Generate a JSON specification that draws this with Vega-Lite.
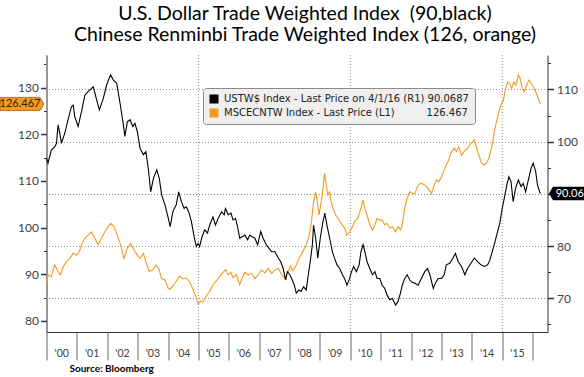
{
  "$schema": "https://vega.github.io/schema/vega-lite/v6.json",
  "width": 501,
  "height": 277,
  "autosize": "none",
  "padding": {"left": 46.5, "top": 55, "right": 36.5, "bottom": 45},
  "background": "#ffffff",
  "config": {
    "view": {"stroke": null},
    "axis": {"labelFont": "Lato", "labelColor": "#404040", "domainColor": "#333333", "tickColor": "#333333", "grid": false}
  },
  "title": {
    "text": ["U.S. Dollar Trade Weighted Index \u00a0(90,black)", "Chinese Renminbi Trade Weighted Index (126, orange)"],
    "font": "Lato", "fontSize": 19.5, "fontWeight": "normal", "color": "#000000",
    "anchor": "middle", "frame": "group", "offset": 9, "lineHeight": 21.5, "dx": 8
  },
  "datasets": {
    "usd": [
      {"year":2000.00,"v":96.8},{"year":2000.05,"v":95.9},{"year":2000.16,"v":98.4},{"year":2000.27,"v":99.0},{"year":2000.33,"v":99.7},{"year":2000.38,"v":103.2},{"year":2000.44,"v":101.6},{"year":2000.49,"v":99.7},{"year":2000.60,"v":101.6},{"year":2000.71,"v":104.2},{"year":2000.82,"v":106.7},{"year":2000.88,"v":107.0},{"year":2000.93,"v":104.8},
      {"year":2001.04,"v":102.9},{"year":2001.15,"v":105.7},{"year":2001.26,"v":108.9},{"year":2001.37,"v":109.6},{"year":2001.48,"v":110.2},{"year":2001.54,"v":110.5},{"year":2001.65,"v":108.0},{"year":2001.74,"v":106.1},{"year":2001.87,"v":108.3},{"year":2001.98,"v":110.9},
      {"year":2002.11,"v":112.8},{"year":2002.20,"v":111.8},{"year":2002.31,"v":111.2},{"year":2002.42,"v":107.4},{"year":2002.53,"v":103.2},{"year":2002.58,"v":101.0},{"year":2002.66,"v":103.8},{"year":2002.75,"v":104.2},{"year":2002.84,"v":102.9},{"year":2002.91,"v":103.5},{"year":2002.99,"v":101.9},
      {"year":2003.08,"v":98.7},{"year":2003.19,"v":97.5},{"year":2003.27,"v":98.1},{"year":2003.35,"v":94.9},{"year":2003.43,"v":90.4},{"year":2003.52,"v":93.0},{"year":2003.63,"v":94.6},{"year":2003.71,"v":93.0},{"year":2003.79,"v":89.8},{"year":2003.90,"v":87.9},
      {"year":2004.01,"v":85.3},{"year":2004.07,"v":83.7},{"year":2004.16,"v":86.6},{"year":2004.27,"v":87.9},{"year":2004.35,"v":90.4},{"year":2004.44,"v":88.5},{"year":2004.53,"v":87.2},{"year":2004.60,"v":87.5},{"year":2004.68,"v":86.6},{"year":2004.77,"v":84.7},{"year":2004.86,"v":81.8},{"year":2004.93,"v":79.9},{"year":2004.99,"v":80.5},
      {"year":2005.04,"v":79.9},{"year":2005.12,"v":81.8},{"year":2005.21,"v":83.1},{"year":2005.30,"v":82.5},{"year":2005.37,"v":84.0},{"year":2005.48,"v":85.6},{"year":2005.56,"v":84.0},{"year":2005.65,"v":85.3},{"year":2005.76,"v":86.6},{"year":2005.85,"v":86.0},{"year":2005.89,"v":87.2},{"year":2005.98,"v":86.0},
      {"year":2006.07,"v":86.3},{"year":2006.14,"v":85.0},{"year":2006.22,"v":85.3},{"year":2006.29,"v":83.7},{"year":2006.36,"v":81.5},{"year":2006.44,"v":81.8},{"year":2006.53,"v":82.1},{"year":2006.62,"v":81.2},{"year":2006.69,"v":82.1},{"year":2006.77,"v":81.8},{"year":2006.86,"v":81.5},{"year":2006.95,"v":80.2},
      {"year":2007.05,"v":82.8},{"year":2007.13,"v":81.5},{"year":2007.24,"v":80.2},{"year":2007.32,"v":79.6},{"year":2007.41,"v":78.9},{"year":2007.52,"v":78.9},{"year":2007.63,"v":77.7},{"year":2007.71,"v":77.0},{"year":2007.79,"v":75.7},{"year":2007.87,"v":73.5},{"year":2007.93,"v":75.1},
      {"year":2008.01,"v":74.5},{"year":2008.09,"v":73.5},{"year":2008.16,"v":72.5},{"year":2008.22,"v":71.0},{"year":2008.31,"v":71.6},{"year":2008.38,"v":71.3},{"year":2008.46,"v":72.2},{"year":2008.55,"v":71.6},{"year":2008.60,"v":73.8},{"year":2008.68,"v":77.0},{"year":2008.75,"v":80.2},{"year":2008.79,"v":84.0},{"year":2008.86,"v":81.5},{"year":2008.93,"v":77.7},
      {"year":2009.01,"v":81.5},{"year":2009.10,"v":84.7},{"year":2009.16,"v":86.3},{"year":2009.23,"v":84.0},{"year":2009.32,"v":81.5},{"year":2009.41,"v":78.9},{"year":2009.48,"v":77.7},{"year":2009.56,"v":76.4},{"year":2009.65,"v":75.7},{"year":2009.74,"v":74.5},{"year":2009.81,"v":73.8},{"year":2009.89,"v":72.5},{"year":2009.98,"v":73.8},
      {"year":2010.04,"v":75.1},{"year":2010.11,"v":76.1},{"year":2010.20,"v":75.1},{"year":2010.29,"v":76.4},{"year":2010.35,"v":78.9},{"year":2010.42,"v":80.3},{"year":2010.48,"v":78.9},{"year":2010.55,"v":77.0},{"year":2010.64,"v":75.7},{"year":2010.73,"v":74.5},{"year":2010.81,"v":75.1},{"year":2010.88,"v":73.8},{"year":2010.97,"v":73.8},
      {"year":2011.05,"v":72.5},{"year":2011.13,"v":71.9},{"year":2011.21,"v":70.6},{"year":2011.30,"v":69.7},{"year":2011.38,"v":70.0},{"year":2011.49,"v":68.7},{"year":2011.57,"v":69.4},{"year":2011.65,"v":71.0},{"year":2011.71,"v":72.5},{"year":2011.79,"v":73.8},{"year":2011.87,"v":74.5},{"year":2011.96,"v":73.5},
      {"year":2012.04,"v":73.0},{"year":2012.12,"v":72.9},{"year":2012.23,"v":72.5},{"year":2012.34,"v":73.8},{"year":2012.45,"v":75.1},{"year":2012.54,"v":75.7},{"year":2012.62,"v":74.5},{"year":2012.73,"v":71.9},{"year":2012.80,"v":72.9},{"year":2012.89,"v":73.8},
      {"year":2013.00,"v":73.8},{"year":2013.09,"v":74.5},{"year":2013.16,"v":76.4},{"year":2013.27,"v":76.7},{"year":2013.38,"v":77.7},{"year":2013.46,"v":78.6},{"year":2013.55,"v":77.0},{"year":2013.66,"v":76.1},{"year":2013.77,"v":74.5},{"year":2013.86,"v":75.7},{"year":2013.97,"v":76.7},
      {"year":2014.08,"v":77.7},{"year":2014.19,"v":77.0},{"year":2014.30,"v":76.4},{"year":2014.41,"v":76.1},{"year":2014.52,"v":76.4},{"year":2014.59,"v":77.3},{"year":2014.67,"v":78.9},{"year":2014.76,"v":80.8},{"year":2014.85,"v":82.8},{"year":2014.92,"v":84.4},
      {"year":2015.00,"v":87.2},{"year":2015.09,"v":89.8},{"year":2015.15,"v":91.7},{"year":2015.22,"v":93.3},{"year":2015.29,"v":92.3},{"year":2015.36,"v":88.5},{"year":2015.44,"v":91.1},{"year":2015.53,"v":92.7},{"year":2015.62,"v":91.4},{"year":2015.69,"v":92.0},{"year":2015.77,"v":90.4},{"year":2015.86,"v":92.7},{"year":2015.95,"v":94.9},
      {"year":2016.02,"v":95.9},{"year":2016.10,"v":94.3},{"year":2016.16,"v":91.7},{"year":2016.25,"v":90.07}
    ],
    "cny": [
      {"year":2000.00,"v":88.1},{"year":2000.05,"v":89.9},{"year":2000.16,"v":89.5},{"year":2000.27,"v":92.0},{"year":2000.38,"v":90.6},{"year":2000.46,"v":89.9},{"year":2000.55,"v":91.6},{"year":2000.66,"v":92.7},{"year":2000.77,"v":93.4},{"year":2000.88,"v":94.5},{"year":2000.99,"v":94.1},
      {"year":2001.08,"v":94.8},{"year":2001.15,"v":96.3},{"year":2001.26,"v":97.7},{"year":2001.37,"v":98.4},{"year":2001.48,"v":99.1},{"year":2001.59,"v":97.7},{"year":2001.70,"v":96.3},{"year":2001.81,"v":97.7},{"year":2001.92,"v":99.1},
      {"year":2002.03,"v":100.2},{"year":2002.12,"v":100.9},{"year":2002.22,"v":100.2},{"year":2002.33,"v":98.4},{"year":2002.44,"v":96.3},{"year":2002.55,"v":93.4},{"year":2002.66,"v":95.6},{"year":2002.77,"v":96.6},{"year":2002.88,"v":95.2},{"year":2002.99,"v":94.1},
      {"year":2003.08,"v":93.4},{"year":2003.19,"v":94.5},{"year":2003.27,"v":92.7},{"year":2003.38,"v":90.6},{"year":2003.49,"v":90.9},{"year":2003.60,"v":92.0},{"year":2003.69,"v":91.3},{"year":2003.79,"v":89.1},{"year":2003.90,"v":88.8},
      {"year":2004.01,"v":87.0},{"year":2004.07,"v":86.8},{"year":2004.16,"v":87.5},{"year":2004.27,"v":88.5},{"year":2004.38,"v":89.6},{"year":2004.49,"v":89.0},{"year":2004.60,"v":89.2},{"year":2004.71,"v":88.4},{"year":2004.82,"v":86.8},{"year":2004.93,"v":85.0},{"year":2004.99,"v":83.6},
      {"year":2005.08,"v":84.3},{"year":2005.15,"v":84.0},{"year":2005.26,"v":85.4},{"year":2005.37,"v":86.3},{"year":2005.48,"v":87.7},{"year":2005.59,"v":88.6},{"year":2005.70,"v":89.5},{"year":2005.81,"v":90.4},{"year":2005.89,"v":91.0},{"year":2005.98,"v":89.9},
      {"year":2006.07,"v":90.4},{"year":2006.14,"v":89.3},{"year":2006.25,"v":89.9},{"year":2006.36,"v":87.8},{"year":2006.44,"v":89.2},{"year":2006.53,"v":90.4},{"year":2006.64,"v":89.9},{"year":2006.75,"v":90.2},{"year":2006.86,"v":89.1},{"year":2006.97,"v":89.9},
      {"year":2007.08,"v":90.9},{"year":2007.19,"v":90.3},{"year":2007.30,"v":91.3},{"year":2007.41,"v":90.2},{"year":2007.52,"v":90.9},{"year":2007.63,"v":91.3},{"year":2007.74,"v":89.9},{"year":2007.85,"v":89.1},{"year":2007.90,"v":89.9},{"year":2007.98,"v":90.9},
      {"year":2008.03,"v":91.8},{"year":2008.10,"v":90.8},{"year":2008.16,"v":91.2},{"year":2008.22,"v":92.0},{"year":2008.31,"v":93.4},{"year":2008.38,"v":94.1},{"year":2008.46,"v":95.2},{"year":2008.55,"v":96.3},{"year":2008.64,"v":98.1},{"year":2008.71,"v":100.6},{"year":2008.79,"v":105.5},{"year":2008.86,"v":107.6},{"year":2008.90,"v":106.3},{"year":2008.97,"v":102.7},
      {"year":2009.04,"v":105.5},{"year":2009.10,"v":108.4},{"year":2009.15,"v":111.6},{"year":2009.21,"v":109.1},{"year":2009.26,"v":107.0},{"year":2009.32,"v":107.7},{"year":2009.37,"v":105.5},{"year":2009.43,"v":104.1},{"year":2009.52,"v":102.7},{"year":2009.59,"v":102.0},{"year":2009.70,"v":100.9},{"year":2009.81,"v":99.9},{"year":2009.89,"v":98.4},{"year":2009.98,"v":99.1},
      {"year":2010.07,"v":100.2},{"year":2010.14,"v":101.3},{"year":2010.25,"v":102.0},{"year":2010.33,"v":103.8},{"year":2010.42,"v":105.9},{"year":2010.48,"v":104.1},{"year":2010.55,"v":102.7},{"year":2010.64,"v":100.6},{"year":2010.73,"v":99.5},{"year":2010.81,"v":100.6},{"year":2010.88,"v":102.0},{"year":2010.97,"v":101.6},
      {"year":2011.05,"v":101.6},{"year":2011.13,"v":100.6},{"year":2011.21,"v":100.9},{"year":2011.30,"v":99.9},{"year":2011.38,"v":100.2},{"year":2011.49,"v":99.1},{"year":2011.57,"v":100.2},{"year":2011.65,"v":99.5},{"year":2011.71,"v":100.6},{"year":2011.79,"v":104.1},{"year":2011.87,"v":106.3},{"year":2011.96,"v":107.7},
      {"year":2012.04,"v":107.3},{"year":2012.12,"v":107.3},{"year":2012.23,"v":109.1},{"year":2012.34,"v":109.5},{"year":2012.45,"v":109.1},{"year":2012.56,"v":108.4},{"year":2012.67,"v":107.3},{"year":2012.76,"v":109.1},{"year":2012.84,"v":110.2},{"year":2012.91,"v":109.8},
      {"year":2013.00,"v":110.9},{"year":2013.09,"v":112.3},{"year":2013.16,"v":113.4},{"year":2013.24,"v":114.5},{"year":2013.33,"v":116.3},{"year":2013.42,"v":117.0},{"year":2013.49,"v":116.3},{"year":2013.57,"v":117.3},{"year":2013.66,"v":115.5},{"year":2013.75,"v":116.3},{"year":2013.86,"v":117.0},{"year":2013.97,"v":118.0},
      {"year":2014.08,"v":118.8},{"year":2014.15,"v":117.3},{"year":2014.23,"v":115.5},{"year":2014.32,"v":113.8},{"year":2014.41,"v":113.4},{"year":2014.48,"v":113.8},{"year":2014.56,"v":114.8},{"year":2014.65,"v":117.0},{"year":2014.74,"v":120.5},{"year":2014.81,"v":122.7},{"year":2014.89,"v":124.8},{"year":2014.96,"v":126.3},
      {"year":2015.03,"v":127.0},{"year":2015.11,"v":129.8},{"year":2015.18,"v":131.2},{"year":2015.24,"v":130.9},{"year":2015.31,"v":129.8},{"year":2015.38,"v":131.2},{"year":2015.45,"v":130.5},{"year":2015.53,"v":132.7},{"year":2015.59,"v":132.0},{"year":2015.66,"v":129.8},{"year":2015.73,"v":129.1},{"year":2015.80,"v":130.5},{"year":2015.88,"v":131.6},{"year":2015.95,"v":130.9},
      {"year":2016.02,"v":130.2},{"year":2016.10,"v":129.1},{"year":2016.19,"v":127.7},{"year":2016.25,"v":126.467}
    ],
    "yrs": [
      {"year": 2000.5, "t": "'00"}, {"year": 2001.5, "t": "'01"}, {"year": 2002.5, "t": "'02"}, {"year": 2003.5, "t": "'03"},
      {"year": 2004.5, "t": "'04"}, {"year": 2005.5, "t": "'05"}, {"year": 2006.5, "t": "'06"}, {"year": 2007.5, "t": "'07"},
      {"year": 2008.5, "t": "'08"}, {"year": 2009.5, "t": "'09"}, {"year": 2010.5, "t": "'10"}, {"year": 2011.5, "t": "'11"},
      {"year": 2012.5, "t": "'12"}, {"year": 2013.5, "t": "'13"}, {"year": 2014.5, "t": "'14"}, {"year": 2015.5, "t": "'15"}
    ],
    "grid": [{"year": 2000}, {"year": 2005}, {"year": 2010}, {"year": 2015}],
    "tagL": [{"year": 2000, "v": 126.467, "t": "126.467"}],
    "tagR": [{"year": 2016.25, "v": 90.0687, "t": "90.06"}]
  },
  "layer": [
    {
      "data": {"name": "grid"},
      "mark": {"type": "rule", "color": "#8c8c8c", "strokeDash": [1, 2], "strokeWidth": 1},
      "encoding": {
        "x": {
          "field": "year", "type": "quantitative",
          "scale": {"domain": [2000, 2016.49], "nice": false, "zero": false},
          "axis": {
            "orient": "bottom",
            "values": [2000, 2001, 2002, 2003, 2004, 2005, 2006, 2007, 2008, 2009, 2010, 2011, 2012, 2013, 2014, 2015, 2016],
            "tickSize": 28, "tickColor": "#666666", "labels": false,
            "title": "Source: Bloomberg", "titleFontWeight": "bold", "titleFontSize": 10, "titleFont": "Lato",
            "titleColor": "#000000", "titleAnchor": "start", "titleAlign": "left",
            "titleX": 22.5, "titleY": 31.5
          }
        }
      }
    },
    {
      "layer": [
        {
          "data": {"name": "cny"},
          "mark": {"type": "line", "strokeWidth": 1.1},
          "encoding": {
            "x": {"field": "year", "type": "quantitative", "scale": {"domain": [2000, 2016.49], "nice": false, "zero": false}, "axis": null},
            "y": {
              "field": "v", "type": "quantitative",
              "scale": {"domain": [77.64, 136.96], "nice": false, "zero": false},
              "axis": {"orient": "left", "values": [80, 90, 100, 110, 120, 130], "tickSize": 6, "tickWidth": 1.5, "labelPadding": 2, "labelFontSize": 12, "title": null}
            },
            "color": {
              "datum": "MSCECNTW",
              "scale": {"domain": ["USTW$", "MSCECNTW"], "range": ["#000000", "#f39a1f"]},
              "legend": {
                "orient": "none", "legendX": 156.5, "legendY": 33, "title": null,
                "symbolType": "square", "symbolSize": 81,
                "labelFont": "DejaVu Sans", "labelFontSize": 10, "labelColor": "#222222", "labelLimit": 400, "labelOffset": 5,
                "fillColor": "#efefef", "strokeColor": "#8a8a8a", "cornerRadius": 3, "padding": 6, "rowPadding": 4,
                "labelExpr": "datum.label == 'USTW$' ? 'USTW$ Index - Last Price on 4/1/16 (R1) 90.0687' : 'MSCECNTW Index - Last Price (L1)\u00a0\u00a0\u00a0\u00a0\u00a0\u00a0\u00a0\u00a0\u00a0\u00a0126.467'",
                "encode": {"symbols": {"update": {"fill": {"scale": "color", "field": "value"}, "stroke": {"value": "transparent"}, "strokeWidth": {"value": 0}}}}
              }
            }
          }
        },
        {
          "data": {"name": "cny"},
          "mark": {"type": "line", "opacity": 0},
          "encoding": {
            "x": {"field": "year", "type": "quantitative", "scale": {"domain": [2000, 2016.49], "nice": false, "zero": false}, "axis": null},
            "y": {
              "field": "v", "type": "quantitative",
              "scale": {"domain": [77.64, 136.96], "nice": false, "zero": false},
              "axis": {"orient": "left", "values": [85, 95, 105, 115, 125, 135], "tickSize": 3, "labels": false, "domain": false, "title": null}
            }
          }
        },
        {
          "data": {"name": "tagL"},
          "mark": {"type": "point", "shape": "M1,0L0.82,-0.3L-1,-0.3L-1,0.3L0.82,0.3Z", "size": 1936, "filled": true, "fill": "#f39a1f", "stroke": "#9a5a10", "strokeWidth": 0.8, "opacity": 1, "xOffset": -24.5},
          "encoding": {
            "x": {"field": "year", "type": "quantitative", "scale": {"domain": [2000, 2016.49], "nice": false, "zero": false}, "axis": null},
            "y": {"field": "v", "type": "quantitative", "scale": {"domain": [77.64, 136.96], "nice": false, "zero": false}, "axis": null}
          }
        },
        {
          "data": {"name": "tagL"},
          "mark": {"type": "text", "font": "Lato", "fontSize": 11, "color": "#222222", "dx": -26.5},
          "encoding": {
            "x": {"field": "year", "type": "quantitative", "scale": {"domain": [2000, 2016.49], "nice": false, "zero": false}, "axis": null},
            "y": {"field": "v", "type": "quantitative", "scale": {"domain": [77.64, 136.96], "nice": false, "zero": false}, "axis": null},
            "text": {"field": "t"}
          }
        }
      ],
      "resolve": {"axis": {"y": "independent"}}
    },
    {
      "layer": [
        {
          "data": {"name": "usd"},
          "mark": {"type": "line", "strokeWidth": 1.1},
          "encoding": {
            "x": {"field": "year", "type": "quantitative", "scale": {"domain": [2000, 2016.49], "nice": false, "zero": false}, "axis": null},
            "y": {
              "field": "v", "type": "quantitative",
              "scale": {"domain": [63.54, 116.6], "nice": false, "zero": false},
              "axis": {"orient": "right", "values": [70, 80, 90, 100, 110], "labelExpr": "datum.value == 90 ? '' : datum.label", "tickSize": 6, "tickWidth": 1.5, "labelPadding": 3, "labelFontSize": 12, "grid": true, "gridDash": [1, 2], "gridColor": "#8c8c8c", "title": null}
            },
            "color": {
              "datum": "USTW$",
              "scale": {"domain": ["USTW$", "MSCECNTW"], "range": ["#000000", "#f39a1f"]},
              "legend": {
                "orient": "none", "legendX": 156.5, "legendY": 33, "title": null,
                "symbolType": "square", "symbolSize": 81,
                "labelFont": "DejaVu Sans", "labelFontSize": 10, "labelColor": "#222222", "labelLimit": 400, "labelOffset": 5,
                "fillColor": "#efefef", "strokeColor": "#8a8a8a", "cornerRadius": 3, "padding": 6, "rowPadding": 4,
                "labelExpr": "datum.label == 'USTW$' ? 'USTW$ Index - Last Price on 4/1/16 (R1) 90.0687' : 'MSCECNTW Index - Last Price (L1)\u00a0\u00a0\u00a0\u00a0\u00a0\u00a0\u00a0\u00a0\u00a0\u00a0126.467'",
                "encode": {"symbols": {"update": {"fill": {"scale": "color", "field": "value"}, "stroke": {"value": "transparent"}, "strokeWidth": {"value": 0}}}}
              }
            }
          }
        },
        {
          "data": {"name": "usd"},
          "mark": {"type": "line", "opacity": 0},
          "encoding": {
            "x": {"field": "year", "type": "quantitative", "scale": {"domain": [2000, 2016.49], "nice": false, "zero": false}, "axis": null},
            "y": {
              "field": "v", "type": "quantitative",
              "scale": {"domain": [63.54, 116.6], "nice": false, "zero": false},
              "axis": {"orient": "right", "values": [65, 75, 85, 95, 105, 115], "tickSize": 3, "labels": false, "domain": false, "title": null}
            }
          }
        },
        {
          "data": {"name": "yrs"},
          "mark": {"type": "text", "font": "Lato", "fontSize": 10.5, "color": "#404040", "baseline": "middle", "align": "center", "dy": 21.5},
          "encoding": {
            "x": {"field": "year", "type": "quantitative", "scale": {"domain": [2000, 2016.49], "nice": false, "zero": false}, "axis": null},
            "y": {"datum": 63.54, "type": "quantitative", "scale": {"domain": [63.54, 116.6], "nice": false, "zero": false}, "axis": null},
            "text": {"field": "t"}
          }
        },
        {
          "data": {"name": "tagR"},
          "mark": {"type": "point", "shape": "M-1,0L-0.78,-0.37L1,-0.37L1,0.37L-0.78,0.37Z", "size": 1296, "filled": true, "fill": "#000000", "opacity": 1, "xOffset": 26.8},
          "encoding": {
            "x": {"field": "year", "type": "quantitative", "scale": {"domain": [2000, 2016.49], "nice": false, "zero": false}, "axis": null},
            "y": {"field": "v", "type": "quantitative", "scale": {"domain": [63.54, 116.6], "nice": false, "zero": false}, "axis": null}
          }
        },
        {
          "data": {"name": "tagR"},
          "mark": {"type": "text", "font": "Lato", "fontSize": 11, "color": "#ffffff", "dx": 29.5},
          "encoding": {
            "x": {"field": "year", "type": "quantitative", "scale": {"domain": [2000, 2016.49], "nice": false, "zero": false}, "axis": null},
            "y": {"field": "v", "type": "quantitative", "scale": {"domain": [63.54, 116.6], "nice": false, "zero": false}, "axis": null},
            "text": {"field": "t"}
          }
        }
      ],
      "resolve": {"axis": {"y": "independent"}}
    }
  ],
  "resolve": {"scale": {"y": "independent"}, "axis": {"x": "independent"}}
}
